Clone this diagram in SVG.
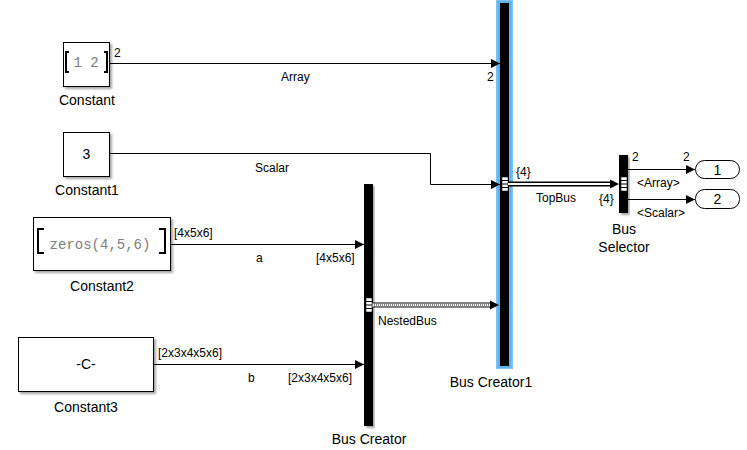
<svg xmlns="http://www.w3.org/2000/svg" width="747" height="450" viewBox="0 0 747 450">
<defs>
<marker id="arr" markerWidth="10" markerHeight="10" refX="9" refY="5" orient="auto" markerUnits="userSpaceOnUse">
<path d="M0,0.5 L9,5 L0,9.5 Z" fill="#000"/>
</marker>
<filter id="sh" x="-10%" y="-10%" width="130%" height="130%">
<feDropShadow dx="2" dy="2" stdDeviation="1" flood-color="#000" flood-opacity="0.35"/>
</filter>
</defs>
<style>
text{font-family:"Liberation Sans",Arial,sans-serif;fill:#000}
.lbl{font-size:14px;text-anchor:middle}
.sig{font-size:12px}
.blk{fill:#fff;stroke:#000;stroke-width:1}
.bar{fill:#000}
.ln{fill:none;stroke:#000;stroke-width:1}
.brk{fill:none;stroke:#000;stroke-width:2}
.mono{font-family:"Liberation Mono","Courier New",monospace;fill:#808080;font-size:14px}
</style>
<rect width="747" height="450" fill="#fff"/>

<g id="Constant">
<rect class="blk" x="63.5" y="42.5" width="46" height="44" filter="url(#sh)"/>
<path class="brk" d="M69,52 H66 V72 H69"/>
<path class="brk" d="M104,52 H107 V72 H104"/>
<text class="mono" x="86" y="67" text-anchor="middle" font-size="13">1 2</text>
<text class="lbl" x="87" y="105">Constant</text>
</g>

<g id="Constant1">
<rect class="blk" x="63.5" y="132.5" width="46" height="44" filter="url(#sh)"/>
<text class="lbl" x="86.5" y="159">3</text>
<text class="lbl" x="87" y="195">Constant1</text>
</g>

<g id="Constant2">
<rect class="blk" x="33.5" y="217.5" width="137" height="53" filter="url(#sh)"/>
<path class="brk" d="M44,229 H38 V253 H44"/>
<path class="brk" d="M159,229 H165 V253 H159"/>
<text class="mono" x="100" y="249" text-anchor="middle">zeros(4,5,6)</text>
<text class="lbl" x="102" y="291">Constant2</text>
</g>

<g id="Constant3">
<rect class="blk" x="18.5" y="337.5" width="135" height="54" filter="url(#sh)"/>
<text class="lbl" x="86" y="369">-C-</text>
<text class="lbl" x="86" y="412">Constant3</text>
</g>

<g id="BusCreator">
<rect class="bar" x="364" y="184" width="9" height="242" filter="url(#sh)"/>
<rect x="366" y="298" width="6" height="14" fill="#fff" stroke="#000" stroke-width="0.5"/>
<path d="M366,301.5 H372 M366,305 H372 M366,308.5 H372" stroke="#000" stroke-width="1"/>
<text class="lbl" x="369" y="444">Bus Creator</text>
</g>

<g id="BusCreator1">
<rect x="496" y="0" width="17" height="369" fill="#7cc4f4"/>
<rect x="497.5" y="1" width="14" height="367" fill="#5cb2f0"/>
<rect class="bar" x="500" y="3" width="9" height="363"/>
<rect x="502" y="177" width="6" height="14" fill="#fff" stroke="#000" stroke-width="0.5"/>
<path d="M502,180.5 H508 M502,184 H508 M502,187.5 H508" stroke="#000" stroke-width="1"/>
<text class="lbl" x="491" y="387">Bus Creator1</text>
</g>

<g id="BusSelector">
<rect class="bar" x="619" y="155" width="9" height="58" filter="url(#sh)"/>
<rect x="621" y="177" width="6" height="14" fill="#fff" stroke="#000" stroke-width="0.5"/>
<path d="M621,180.5 H627 M621,184 H627 M621,187.5 H627" stroke="#000" stroke-width="1"/>
<text class="lbl" x="624" y="234">Bus</text>
<text class="lbl" x="624" y="252">Selector</text>
</g>

<g id="Out1">
<rect class="blk" x="695.5" y="160.5" width="44" height="18" rx="9" ry="9"/>
<text class="lbl" x="717.5" y="175">1</text>
</g>
<g id="Out2">
<rect class="blk" x="695.5" y="189.5" width="44" height="19" rx="9" ry="9"/>
<text class="lbl" x="717.5" y="204">2</text>
</g>

<g id="connectors">
<path class="ln" d="M110,63.5 H500" marker-end="url(#arr)"/>
<text class="sig" x="114" y="57">2</text>
<text class="sig" x="487" y="81">2</text>
<text class="sig" x="281" y="81">Array</text>

<path class="ln" d="M110,153.5 H430.5 V184.5 H500" marker-end="url(#arr)"/>
<text class="sig" x="255" y="172">Scalar</text>

<path class="ln" d="M171,244.5 H364" marker-end="url(#arr)"/>
<text class="sig" x="174" y="237">[4x5x6]</text>
<text class="sig" x="256" y="262">a</text>
<text class="sig" x="316" y="262">[4x5x6]</text>

<path class="ln" d="M154,364.5 H364" marker-end="url(#arr)"/>
<text class="sig" x="158" y="357">[2x3x4x5x6]</text>
<text class="sig" x="248" y="382">b</text>
<text class="sig" x="288" y="382">[2x3x4x5x6]</text>

<path d="M372,305 H491" stroke="#000" stroke-width="5" fill="none"/>
<path d="M372,305 H491" stroke="#fff" stroke-width="3" fill="none"/>
<path d="M372,305 H491" stroke="#000" stroke-width="1" stroke-dasharray="1,1" fill="none"/>
<path d="M490,300.5 L499,305 L490,309.5 Z" fill="#000"/>
<text class="sig" x="378" y="325">NestedBus</text>

<path d="M508,184 H611" stroke="#000" stroke-width="5" fill="none"/>
<path d="M508,184 H611" stroke="#fff" stroke-width="2" fill="none"/>
<path d="M610,179.5 L619,184 L610,188.5 Z" fill="#000"/>
<text class="sig" x="516" y="176">{4}</text>
<text class="sig" x="536" y="202">TopBus</text>
<text class="sig" x="599" y="203">{4}</text>

<path class="ln" d="M628,169.5 H695" marker-end="url(#arr)"/>
<text class="sig" x="632" y="161">2</text>
<text class="sig" x="683" y="161">2</text>
<text class="sig" x="637" y="187">&lt;Array&gt;</text>

<path class="ln" d="M628,199.5 H695" marker-end="url(#arr)"/>
<text class="sig" x="637" y="217">&lt;Scalar&gt;</text>
</g>
</svg>
